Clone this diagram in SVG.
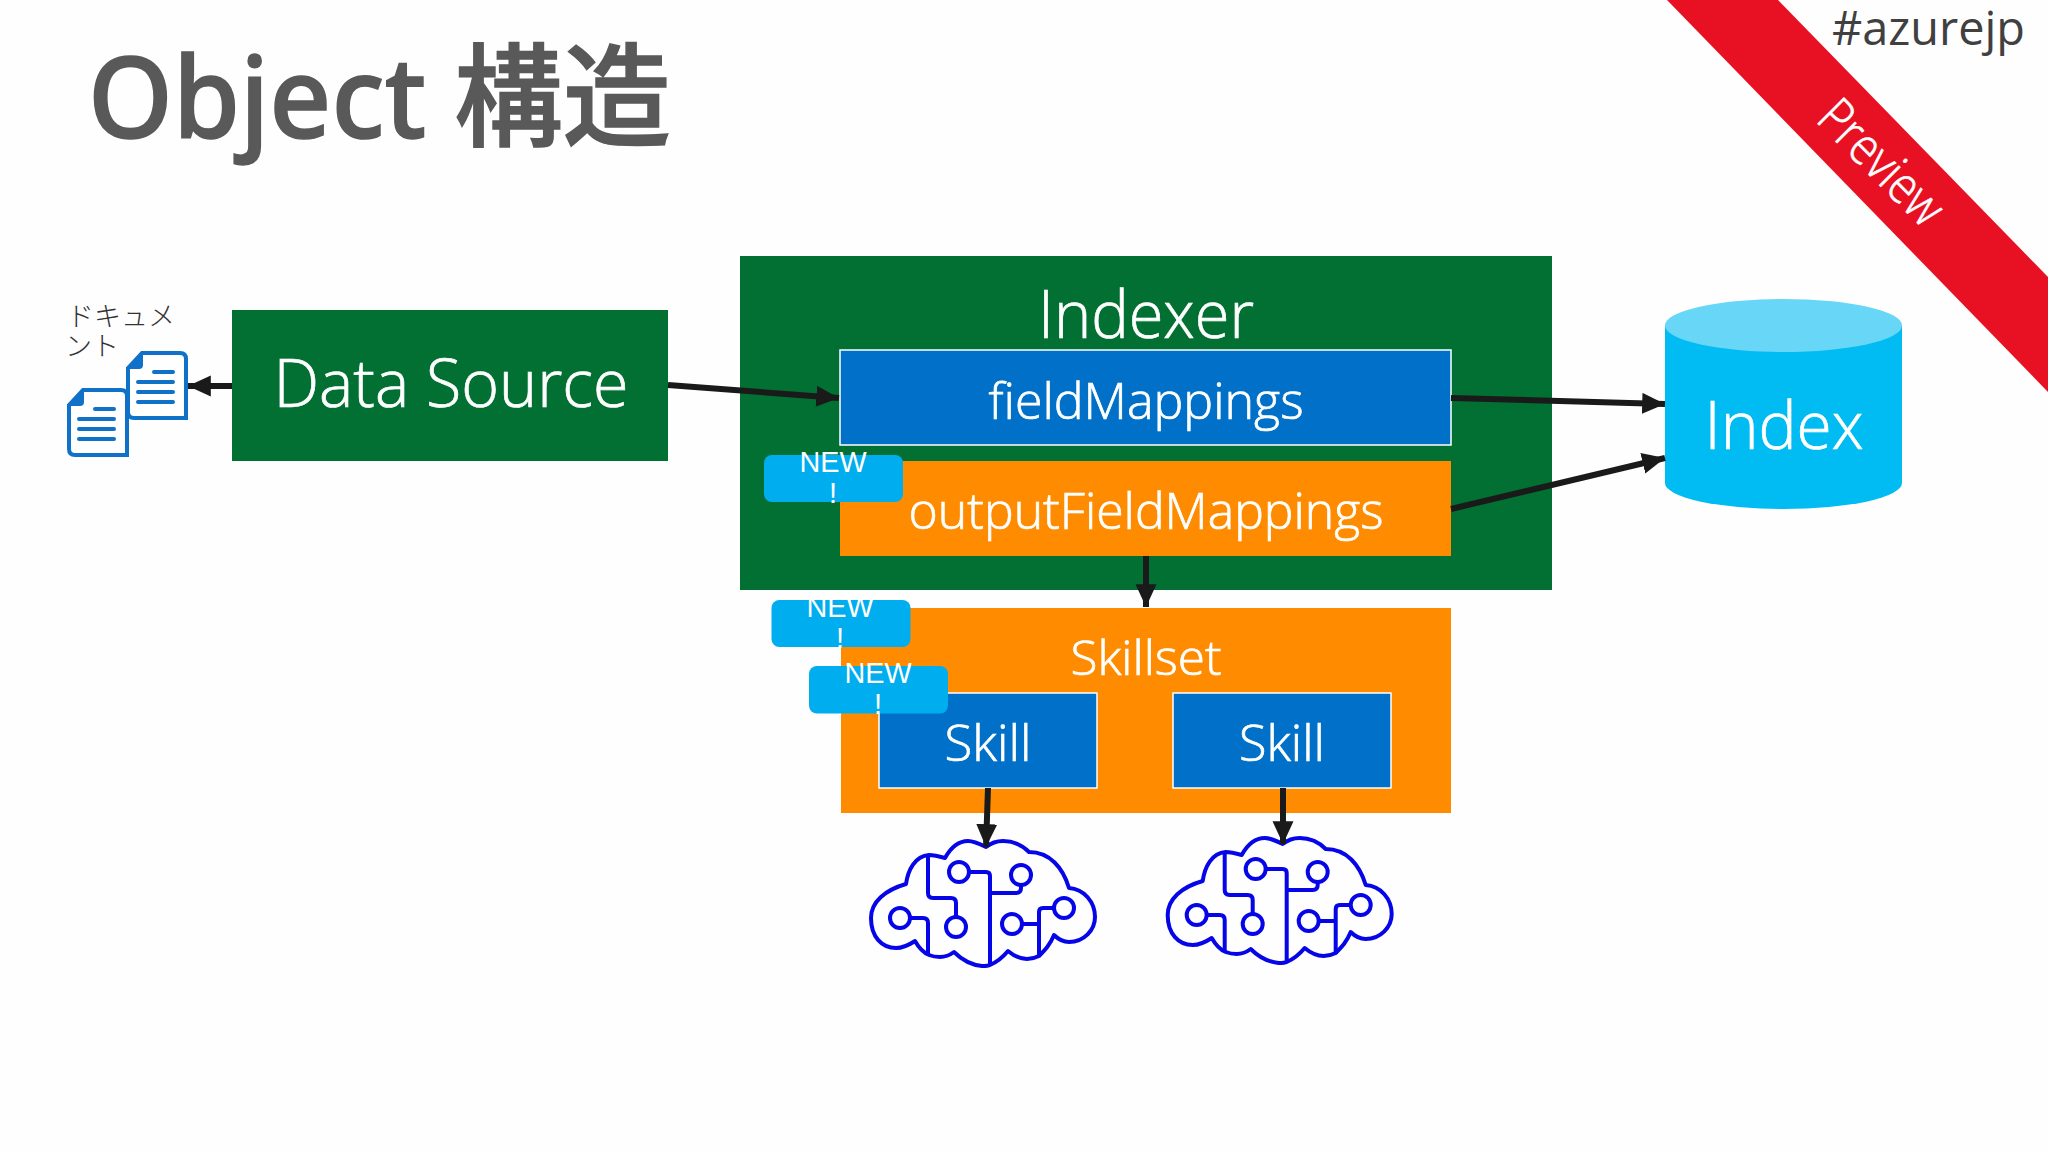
<svg xmlns="http://www.w3.org/2000/svg" xmlns:xlink="http://www.w3.org/1999/xlink" width="2048" height="1152" viewBox="0 0 2048 1152">
<style>
.t{font-family:"Open Sans","Noto Sans","Liberation Sans",sans-serif;font-weight:300;fill:#fff;stroke:#fff;stroke-width:.7;text-anchor:middle}
.new{font-family:"Liberation Sans",Arial,sans-serif;font-size:28.8px;fill:#fff;text-anchor:middle}
.badge{fill:#00adef}
.green{fill:#037033}
.orange{fill:#ff8c00}
.blue{fill:#0070c8;stroke:#fff;stroke-width:1.5}
.conn{stroke:#1a1a1a;stroke-width:6;fill:none}
.brain{fill:none;stroke:#0505e8;stroke-width:4;stroke-linejoin:round}
.doc{fill:#fff;stroke:#0f72c8;stroke-width:4}
.docl{stroke:#0f72c8;stroke-width:4;stroke-linecap:round}
.jp{font-family:"Noto Sans CJK JP",sans-serif;font-size:27px;font-weight:300;fill:#333}
</style>
<defs>
<marker id="head" markerUnits="strokeWidth" markerWidth="4" markerHeight="3.6" refX="3.8" refY="1.75" orient="auto"><path d="M0,0 L3.8,1.75 L0,3.5 Z" fill="#1a1a1a"/></marker>
<g id="docIcon">
<path class="doc" d="M2,17 L16,2 H54 Q60,2 60,8 V67 H8 Q2,67 2,61 Z"/>
<path d="M1,18 L17,1 V14 Q17,18 13,18 Z" fill="#0f72c8"/>
<path class="docl" d="M28,21 H47 M12,31 H47 M12,41 H47 M12,51 H47" fill="none"/>
</g>
<g id="brainIcon">
<path class="brain" d="M986,847 C978,843 973,841 968,841 C958,841 950,849 945,858 C938,856 934,855 929,855 C915,856 908,870 906,884 C885,890 871,902 871,918 C871,937 882,948 896,948 C903,948 909,945 915,941 C919,948 924,953 929,955 C934,957 937,957 940,957 C945,957 950,955 954,952 C962,960 972,965 982,966 C985,966 988,966 990,965 C997,962 1003,957 1008,951 C1014,956 1020,959 1027,959 C1031,959 1035,958 1039,956 C1045,950 1050,945 1054,935 C1058,939 1063,942 1069,942 C1084,942 1095,930 1095,917 C1095,902 1084,889 1069,888 C1063,868 1050,852 1029,852 C1022,845 1012,841 1003,841 C996,841 991,843 986,847 Z"/>
<path class="brain" d="M928,856 V893 Q928,898 933,898 H951 Q956,898 956,903 V917 M969,872 H986 Q990,872 990,876 V965 M990,893 H1016 Q1021,893 1021,888 V885 M1022,924 H1039 M1039,956 V912 Q1039,908 1043,908 H1054 M910,918 H923 Q928,918 928,923 V955"/>
<circle class="brain" cx="956" cy="927" r="10"/>
<circle class="brain" cx="959" cy="872" r="10"/>
<circle class="brain" cx="1021" cy="875" r="10"/>
<circle class="brain" cx="1012" cy="924" r="10"/>
<circle class="brain" cx="1064" cy="908" r="10"/>
<circle class="brain" cx="900" cy="918" r="10"/>
</g>
</defs>
<rect width="2048" height="1152" fill="#fefefe"/>
<text id="title" x="88" y="138" font-family="'Noto Sans','Noto Sans CJK JP',sans-serif" font-size="112" font-weight="500" fill="#595959" stroke="#595959" stroke-width="1.5" textLength="583" lengthAdjust="spacingAndGlyphs">Object 構造</text>
<g id="ribbon">
<polygon points="1667,0 1778,0 2048,277 2048,392" fill="#e81123"/>
<text class="t" x="1869" y="175" font-size="52" transform="rotate(45 1869 175)" textLength="154" lengthAdjust="spacingAndGlyphs">Preview</text>
</g>
<text id="hashtag" x="1832" y="45" font-family="'Open Sans','Noto Sans',sans-serif" font-weight="400" font-size="47" fill="#404040" textLength="193" lengthAdjust="spacingAndGlyphs">#azurejp</text>
<g id="documents">
<text class="jp" x="67" y="326" textLength="108">ドキュメ</text>
<text class="jp" x="65" y="356" textLength="54">ント</text>
<use href="#docIcon" xlink:href="#docIcon" x="126" y="351"/>
<use href="#docIcon" xlink:href="#docIcon" x="67" y="388"/>
</g>
<g id="dataSource">
<rect class="green" x="232" y="310" width="436" height="151"/>
<text class="t" x="451" y="407" font-size="66" textLength="355" lengthAdjust="spacingAndGlyphs">Data Source</text>
</g>
<g id="indexer">
<rect class="green" x="740" y="256" width="812" height="334"/>
<text class="t" x="1146" y="338" font-size="66" textLength="216" lengthAdjust="spacingAndGlyphs">Indexer</text>
</g>
<g id="fieldMappings">
<rect class="blue" x="840" y="350" width="611" height="95"/>
<text class="t" x="1146" y="419" font-size="50" textLength="315" lengthAdjust="spacingAndGlyphs">fieldMappings</text>
</g>
<g id="outputFieldMappings">
<rect class="orange" x="840" y="461" width="611" height="95"/>
<text class="t" x="1146" y="529" font-size="50" textLength="475" lengthAdjust="spacingAndGlyphs">outputFieldMappings</text>
</g>
<g id="skillset">
<rect class="orange" x="841" y="608" width="610" height="205"/>
<text class="t" x="1146" y="675" font-size="48" textLength="151" lengthAdjust="spacingAndGlyphs">Skillset</text>
</g>
<g id="skill1">
<rect class="blue" x="879" y="693" width="218" height="95"/>
<text class="t" x="988" y="761" font-size="50" textLength="87" lengthAdjust="spacingAndGlyphs">Skill</text>
</g>
<g id="skill2">
<rect class="blue" x="1173" y="693" width="218" height="95"/>
<text class="t" x="1282" y="761" font-size="50" textLength="86" lengthAdjust="spacingAndGlyphs">Skill</text>
</g>
<g id="index">
<path d="M1665,325 V483 A118.500,26 0 0 0 1902,483 V325 Z" fill="#00bcf2"/>
<ellipse cx="1783.500" cy="325.500" rx="118.500" ry="26.500" fill="#68d6f7"/>
<text class="t" x="1784" y="449" font-size="66" textLength="159" lengthAdjust="spacingAndGlyphs">Index</text>
</g>
<g id="badge1"><rect class="badge" x="764" y="455" width="139" height="47" rx="8"/><text class="new" x="833" y="472">NEW</text><text class="new" x="833" y="503">!</text></g>
<g id="badge2"><rect class="badge" x="771.500" y="600" width="139" height="47" rx="8"/><text class="new" x="840" y="617">NEW</text><text class="new" x="840" y="648">!</text></g>
<g id="badge3"><rect class="badge" x="809" y="666" width="139" height="47.500" rx="8"/><text class="new" x="878" y="683">NEW</text><text class="new" x="878" y="714">!</text></g>
<g id="brain1"><use href="#brainIcon" xlink:href="#brainIcon"/></g>
<g id="brain2"><use href="#brainIcon" xlink:href="#brainIcon" x="296.700" y="-3"/></g>
<g id="connectors">
<line class="conn" x1="232" y1="386" x2="188" y2="386" marker-end="url(#head)"/>
<line class="conn" x1="668" y1="385" x2="839" y2="398" marker-end="url(#head)"/>
<line class="conn" x1="1451" y1="398" x2="1665" y2="404" marker-end="url(#head)"/>
<line class="conn" x1="1451" y1="509" x2="1665" y2="458" marker-end="url(#head)"/>
<line class="conn" x1="1146" y1="556" x2="1146" y2="607" marker-end="url(#head)"/>
<line class="conn" x1="988" y1="788" x2="986" y2="847" marker-end="url(#head)"/>
<line class="conn" x1="1283" y1="788" x2="1283" y2="844" marker-end="url(#head)"/>
</g>
</svg>
